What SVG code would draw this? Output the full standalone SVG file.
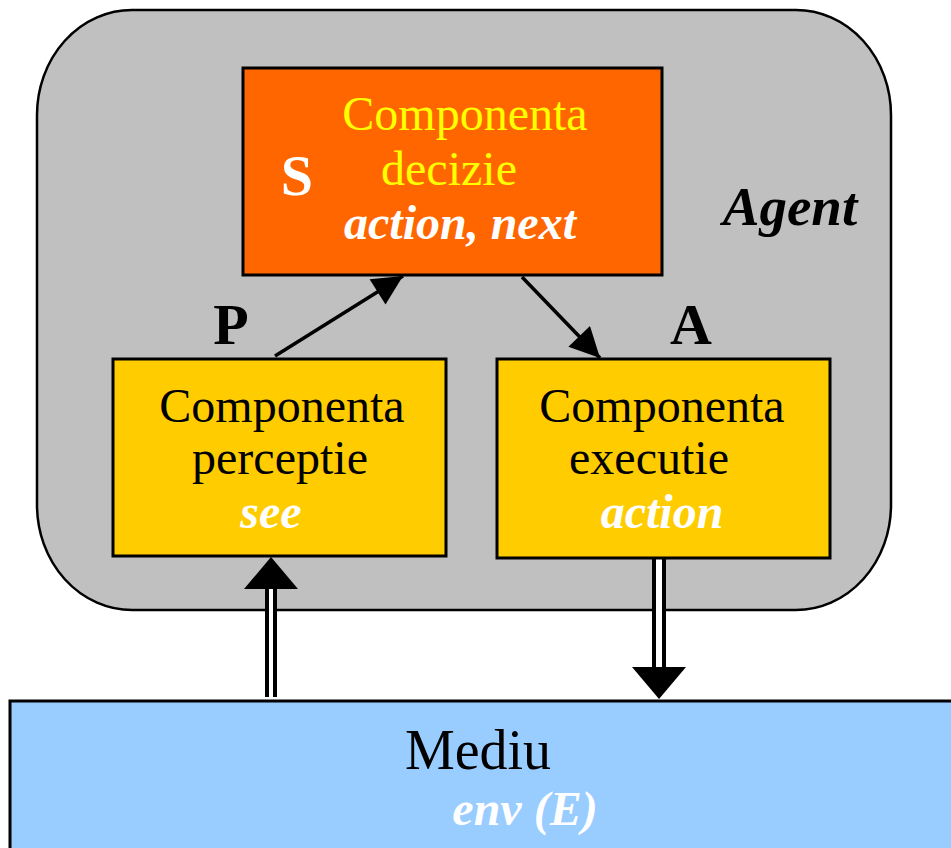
<svg xmlns="http://www.w3.org/2000/svg" width="951" height="848" viewBox="0 0 951 848">
  <style>
    .box { stroke: #000; stroke-width: 3; }
    .t { font-family: "Liberation Serif", "Times New Roman", serif; font-size: 48px; text-anchor: middle; }
    .bi { font-weight: bold; font-style: italic; }
    .b { font-weight: bold; }
    .big { font-size: 58px; }
    .conn { stroke: #000; stroke-width: 3.5; fill: none; }
  </style>
  <defs>
    <marker id="head" viewBox="0 0 10 10" refX="10" refY="5" markerUnits="userSpaceOnUse" markerWidth="32" markerHeight="30" orient="auto">
      <path d="M0,0 L10,5 L0,10 Z" fill="#000"/>
    </marker>
  </defs>
  <rect width="951" height="848" fill="#fff"/>

  <!-- Agent container -->
  <g id="agent">
    <rect x="37" y="10" width="854" height="600" rx="95" ry="105" fill="#c0c0c0" stroke="#000" stroke-width="2.5"/>
    <text class="t bi" x="790" y="225" style="font-size:55px" fill="#000">Agent</text>
  </g>

  <!-- Environment -->
  <g id="mediu">
    <rect class="box" x="10" y="701" width="960" height="160" fill="#99ccff"/>
    <text class="t" x="478" y="769" style="font-size:56px" fill="#000">Mediu</text>
    <text class="t bi" x="525" y="825" fill="#fff">env (E)</text>
  </g>

  <!-- Connectors -->
  <g id="connectors">
    <line class="conn" x1="275" y1="356" x2="403" y2="276" marker-end="url(#head)"/>
    <line class="conn" x1="522" y1="277" x2="600" y2="358" marker-end="url(#head)"/>
    <!-- perception input: hollow double shaft -->
    <line x1="271" y1="697" x2="271" y2="588" stroke="#000" stroke-width="12"/>
    <line x1="271" y1="697" x2="271" y2="588" stroke="#fff" stroke-width="4"/>
    <polygon points="244,589 298,589 271,557" fill="#000"/>
    <!-- action output: hollow double shaft -->
    <line x1="659" y1="559" x2="659" y2="668" stroke="#000" stroke-width="14"/>
    <line x1="659" y1="559" x2="659" y2="668" stroke="#fff" stroke-width="6"/>
    <polygon points="632,667 686,667 659,699" fill="#000"/>
  </g>

  <!-- Decision component -->
  <g id="decizie">
    <rect class="box" x="243" y="68" width="419" height="207" fill="#ff6600"/>
    <text class="t b big" x="297" y="195" fill="#fff">S</text>
    <text class="t" x="465" y="130" fill="#ffff00">Componenta</text>
    <text class="t" x="449" y="185" fill="#ffff00">decizie</text>
    <text class="t bi" x="460" y="239" fill="#fff">action, next</text>
  </g>

  <!-- Perception component -->
  <g id="perceptie">
    <rect class="box" x="113" y="359" width="333" height="197" fill="#ffcc00"/>
    <text class="t b big" x="231" y="344" fill="#000">P</text>
    <text class="t" x="282" y="422" fill="#000">Componenta</text>
    <text class="t" x="280" y="474" fill="#000">perceptie</text>
    <text class="t bi" x="271" y="528" fill="#fff">see</text>
  </g>

  <!-- Execution component -->
  <g id="executie">
    <rect class="box" x="497" y="359" width="333" height="199" fill="#ffcc00"/>
    <text class="t b big" x="691" y="344" fill="#000">A</text>
    <text class="t" x="662" y="422" fill="#000">Componenta</text>
    <text class="t" x="649" y="474" fill="#000">executie</text>
    <text class="t bi" x="662" y="528" fill="#fff">action</text>
  </g>
</svg>
